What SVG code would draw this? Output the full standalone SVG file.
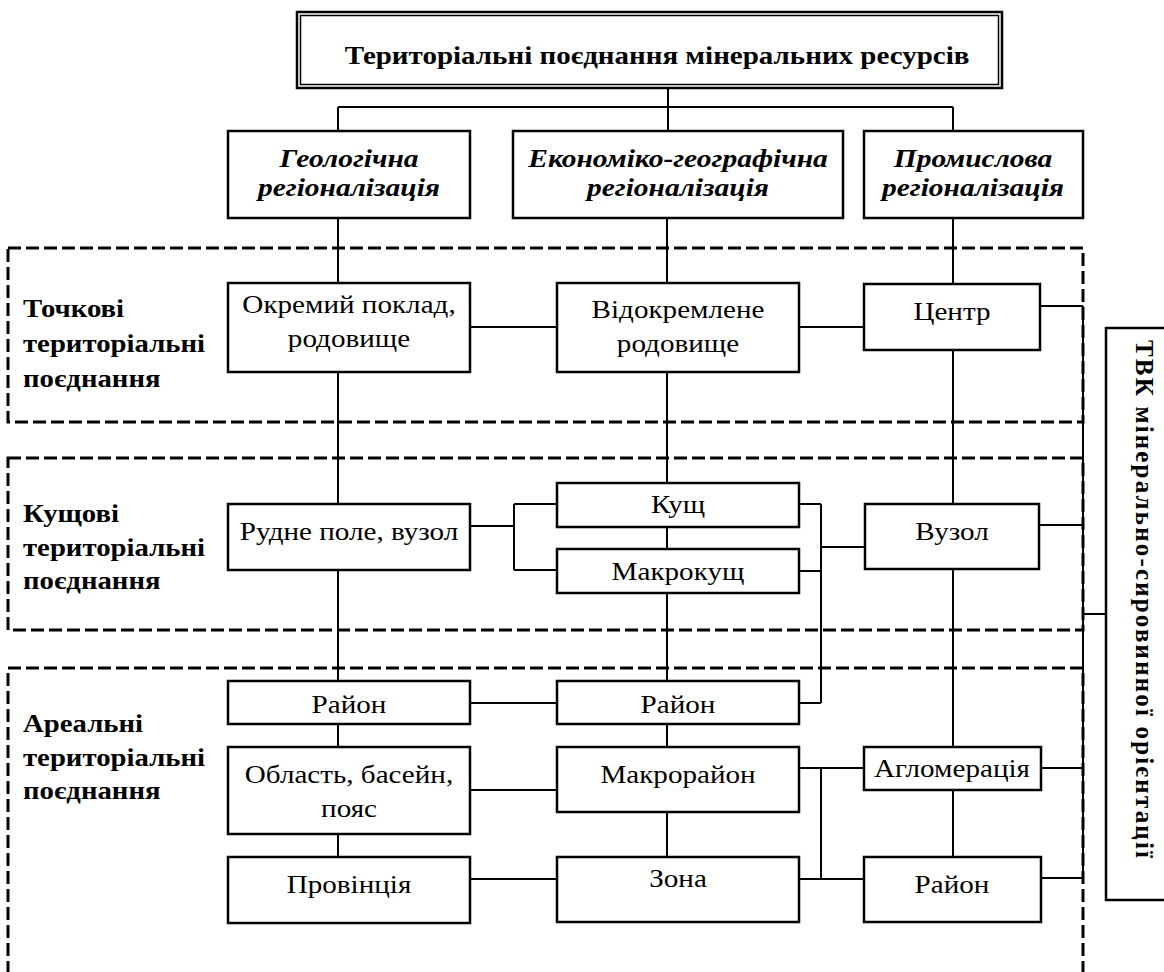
<svg xmlns="http://www.w3.org/2000/svg" width="1164" height="972" viewBox="0 0 1164 972">
<style>
.box{fill:#fff;stroke:#000;stroke-width:2.5}
.ln{fill:none;stroke:#000;stroke-width:2}
.dash{fill:none;stroke:#000;stroke-width:3;stroke-dasharray:13 5}
.t{font-family:"Liberation Serif","Times New Roman",serif;font-size:26px;text-anchor:middle;fill:#000}
.hd{font-family:"Liberation Serif","Times New Roman",serif;font-size:25px;font-weight:bold;font-style:italic;text-anchor:middle;fill:#000}
.lb{font-family:"Liberation Serif","Times New Roman",serif;font-size:25px;font-weight:bold;fill:#000}
.ti{font-family:"Liberation Serif","Times New Roman",serif;font-size:25px;font-weight:bold;text-anchor:middle;fill:#000}
</style>
<rect width="1164" height="972" fill="#fff"/>

<g id="zones">
  <rect class="dash" x="8" y="248" width="1075" height="174"/>
  <rect class="dash" x="8" y="458" width="1075" height="172"/>
  <rect class="dash" x="8" y="668" width="1075" height="320"/>
  <g transform="translate(23,317) scale(1.15,1)"><text class="lb" x="0" y="0">Точкові</text><text class="lb" x="0" y="35">територіальні</text><text class="lb" x="0" y="70">поєднання</text></g>
  <g transform="translate(23,522) scale(1.15,1)"><text class="lb" x="0" y="0">Кущові</text><text class="lb" x="0" y="34">територіальні</text><text class="lb" x="0" y="67">поєднання</text></g>
  <g transform="translate(23,732) scale(1.15,1)"><text class="lb" x="0" y="0">Ареальні</text><text class="lb" x="0" y="34">територіальні</text><text class="lb" x="0" y="67">поєднання</text></g>
</g>

<g id="connectors" class="ln">
  <path d="M668 88V107M338 107H953M338 107V131M668 107V131M953 107V131"/>
  <path d="M338 218V283M338 372V504M338 570V681M338 724V747M338 834V857"/>
  <path d="M667 218V283M667 372V483M667 527V549M667 593V681M667 724V747M667 812V857"/>
  <path d="M953 218V284M953 350V504M953 569V747M953 790V857"/>
  <path d="M470 327H557M799 327H864"/>
  <path d="M470 526H514M514 504V570M514 504H557M514 570H557"/>
  <path d="M799 504H821M799 571H821M799 703H821M821 504V703M821 547H865"/>
  <path d="M470 703H557M470 790H557M470 879H557"/>
  <path d="M799 768H864M799 879H864M821 768V879"/>
  <path d="M1040 306H1083M1039 525H1083M1041 768H1083M1041 878H1083M1083 306V878M1083 614H1106"/>
</g>

<g id="title">
  <rect class="box" x="297" y="12" width="705" height="76" stroke-width="1.5"/>
  <rect x="300.5" y="15.5" width="698" height="69" fill="none" stroke="#000" stroke-width="1.5"/>
  <text class="ti" transform="translate(657,64) scale(1.16,1)">Територіальні поєднання мінеральних ресурсів</text>
</g>

<g id="h-geo">
  <rect class="box" x="228" y="131" width="242" height="87"/>
  <text class="hd" transform="translate(349,167) scale(1.18,1)">Геологічна</text>
  <text class="hd" transform="translate(349,196) scale(1.18,1)">регіоналізація</text>
</g>
<g id="h-econ">
  <rect class="box" x="513" y="131" width="330" height="87"/>
  <text class="hd" transform="translate(678,167) scale(1.18,1)">Економіко-географічна</text>
  <text class="hd" transform="translate(678,196) scale(1.18,1)">регіоналізація</text>
</g>
<g id="h-prom">
  <rect class="box" x="864" y="131" width="219" height="87"/>
  <text class="hd" transform="translate(973,167) scale(1.18,1)">Промислова</text>
  <text class="hd" transform="translate(973,196) scale(1.18,1)">регіоналізація</text>
</g>

<g id="g1">
  <rect class="box" x="228" y="283" width="242" height="89"/>
  <text class="t" transform="translate(349,313) scale(1.12,1)">Окремий поклад,</text>
  <text class="t" transform="translate(349,347) scale(1.12,1)">родовище</text>
</g>
<g id="e1">
  <rect class="box" x="557" y="283" width="242" height="89"/>
  <text class="t" transform="translate(678,318) scale(1.12,1)">Відокремлене</text>
  <text class="t" transform="translate(678,352) scale(1.12,1)">родовище</text>
</g>
<g id="p1">
  <rect class="box" x="864" y="284" width="176" height="66"/>
  <text class="t" transform="translate(952,320) scale(1.12,1)">Центр</text>
</g>

<g id="g2">
  <rect class="box" x="228" y="504" width="242" height="66"/>
  <text class="t" transform="translate(349,540) scale(1.12,1)">Рудне поле, вузол</text>
</g>
<g id="e2a">
  <rect class="box" x="557" y="483" width="242" height="44"/>
  <text class="t" transform="translate(678,513) scale(1.12,1)">Кущ</text>
</g>
<g id="e2b">
  <rect class="box" x="557" y="549" width="242" height="44"/>
  <text class="t" transform="translate(678,580) scale(1.12,1)">Макрокущ</text>
</g>
<g id="p2">
  <rect class="box" x="865" y="504" width="174" height="65"/>
  <text class="t" transform="translate(952,540) scale(1.12,1)">Вузол</text>
</g>

<g id="g3">
  <rect class="box" x="228" y="681" width="242" height="43"/>
  <text class="t" transform="translate(349,713) scale(1.12,1)">Район</text>
</g>
<g id="e3">
  <rect class="box" x="557" y="681" width="242" height="43"/>
  <text class="t" transform="translate(678,713) scale(1.12,1)">Район</text>
</g>
<g id="g4">
  <rect class="box" x="228" y="747" width="242" height="87"/>
  <text class="t" transform="translate(349,783) scale(1.12,1)">Область, басейн,</text>
  <text class="t" transform="translate(349,817) scale(1.12,1)">пояс</text>
</g>
<g id="e4">
  <rect class="box" x="557" y="747" width="242" height="65"/>
  <text class="t" transform="translate(678,783) scale(1.12,1)">Макрорайон</text>
</g>
<g id="p4">
  <rect class="box" x="864" y="747" width="177" height="43"/>
  <text class="t" transform="translate(952,777) scale(1.12,1)">Агломерація</text>
</g>
<g id="g5">
  <rect class="box" x="228" y="857" width="242" height="66"/>
  <text class="t" transform="translate(349,893) scale(1.12,1)">Провінція</text>
</g>
<g id="e5">
  <rect class="box" x="557" y="857" width="242" height="65"/>
  <text class="t" transform="translate(678,887) scale(1.12,1)">Зона</text>
</g>
<g id="p5">
  <rect class="box" x="864" y="857" width="177" height="65"/>
  <text class="t" transform="translate(952,893) scale(1.12,1)">Район</text>
</g>

<g id="tvk">
  <rect class="box" x="1106" y="328" width="80" height="572"/>
  <text class="lb" transform="translate(1136,340) rotate(90)" x="0" y="0" font-size="26" textLength="518" lengthAdjust="spacing">ТВК мінерально-сировинної орієнтації</text>
</g>
</svg>
